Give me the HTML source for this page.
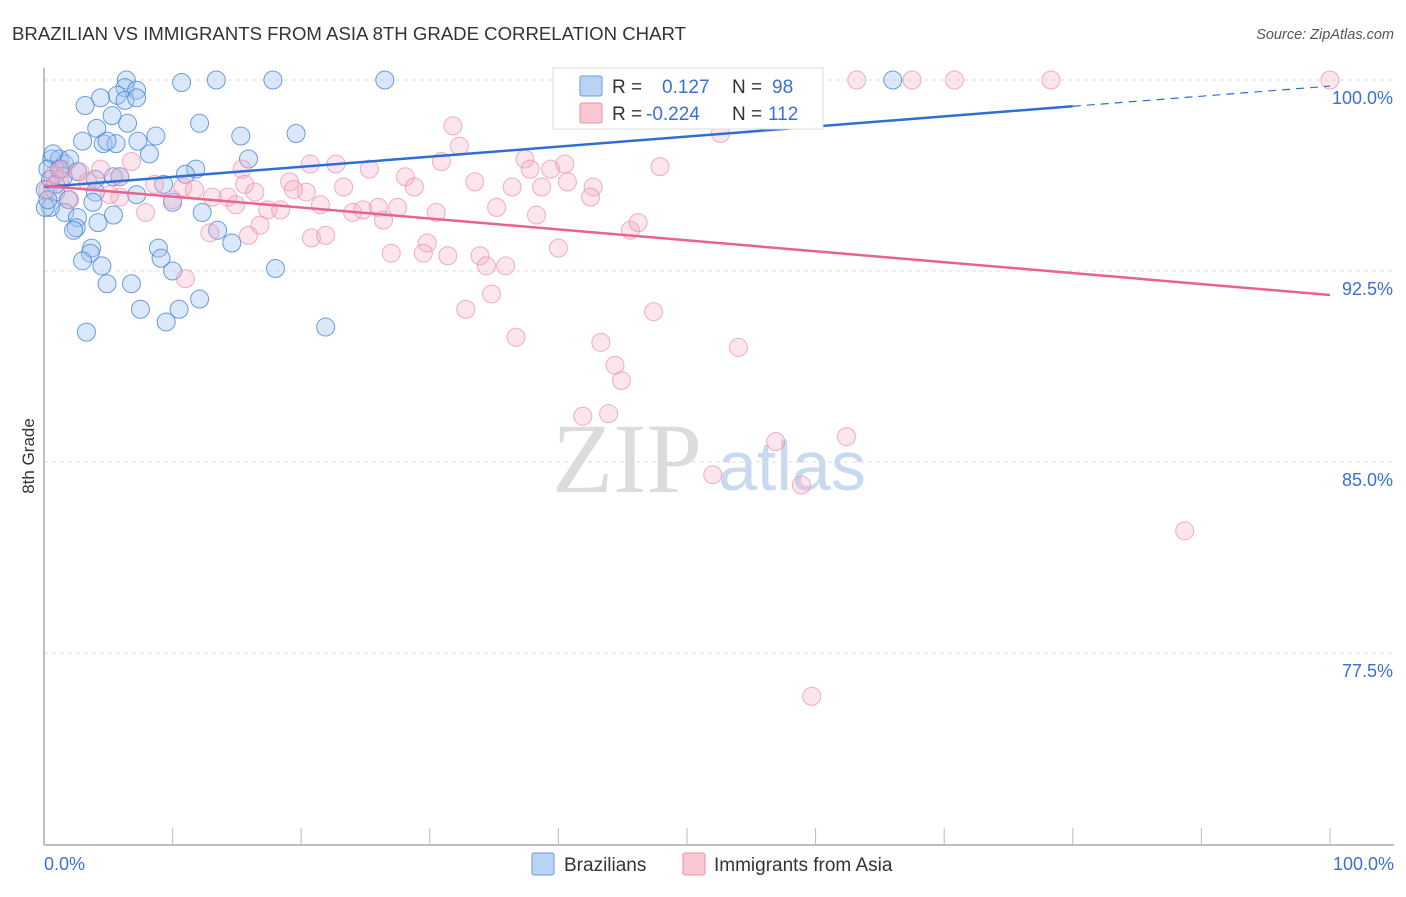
<!DOCTYPE html>
<html><head><meta charset="utf-8"><style>
body{margin:0;background:#fff;font-family:"Liberation Sans",sans-serif}
svg text{font-family:"Liberation Sans",sans-serif}
</style></head><body>
<svg id="chart" width="1406" height="892" viewBox="0 0 1406 892" xmlns="http://www.w3.org/2000/svg">
<text x="12" y="40" font-size="18.6" fill="#333">BRAZILIAN VS IMMIGRANTS FROM ASIA 8TH GRADE CORRELATION CHART</text>
<text x="1394" y="39" font-size="14.5" fill="#555" font-style="italic" text-anchor="end">Source: ZipAtlas.com</text>
<text transform="translate(34,456) rotate(-90)" font-size="17" fill="#333" text-anchor="middle">8th Grade</text>
<g><text x="552" y="492" font-size="100" style="font-family:'Liberation Serif',serif" fill="#dcdcdc">ZIP</text><text x="718" y="490" font-size="70" fill="#c9daf0">atlas</text></g>
<g id="grid"></g><g id="axes"></g><g id="pts"></g><g id="lines"></g>
<g>
<rect x="553" y="68" width="270" height="61" fill="#fff" stroke="#ddd"/>
<rect x="580" y="76" width="22" height="20" fill="#b8d3f4" stroke="#6a9be0" rx="2"/>
<rect x="580" y="103" width="22" height="20" fill="#f9c6d4" stroke="#eb92ad" rx="2"/>
<text x="612" y="93" font-size="19" fill="#333">R = </text><text x="662" y="93" font-size="19" fill="#3b6fd4">0.127</text>
<text x="732" y="93" font-size="19" fill="#333">N = </text><text x="772" y="93" font-size="19" fill="#3b6fd4">98</text>
<text x="612" y="120" font-size="19" fill="#333">R = </text><text x="646" y="120" font-size="19" fill="#3b6fd4">-0.224</text>
<text x="732" y="120" font-size="19" fill="#333">N = </text><text x="768" y="120" font-size="19" fill="#3b6fd4">112</text>
</g>
<g>
<rect x="532" y="853" width="22" height="22" fill="#b8d3f4" stroke="#6a9be0" rx="2"/>
<text x="564" y="871" font-size="19" fill="#333">Brazilians</text>
<rect x="683" y="853" width="22" height="22" fill="#f9c6d4" stroke="#eb92ad" rx="2"/>
<text x="714" y="871" font-size="19" fill="#333">Immigrants from Asia</text>
</g>
</svg>
<script>
const yTicks=[100,92.5,85,77.5];
const yTickLabels=["100.0%","92.5%","85.0%","77.5%"];
const xTickLabels=["0.0%","100.0%"];
const blueX=[6.4,10.7,13.4,17.8,26.5,66.0,6.3,7.2,5.7,4.4,6.3,7.2,3.2,5.3,12.1,6.5,4.1,8.7,15.3,19.6,3.0,4.6,5.6,7.3,4.9,8.2,15.9,11.8,11.0,0.6,1.2,1.6,2.0,0.7,0.3,1.5,2.6,4.0,5.4,5.9,9.3,7.2,4.0,0.9,1.9,3.8,10.0,12.3,1.6,2.6,5.4,2.5,2.3,4.2,13.5,14.6,8.9,3.7,3.6,3.0,4.5,9.1,10.0,18.0,4.9,6.8,7.5,12.1,10.5,9.5,3.3,21.9,0.5,0.1,0.5,0.9,1.2,0.1,0.3];
const blueY=[100,99.9,100,100,100,100,99.7,99.6,99.4,99.3,99.2,99.3,99.0,98.6,98.3,98.3,98.1,97.8,97.8,97.9,97.6,97.5,97.5,97.6,97.6,97.1,96.9,96.5,96.3,96.9,96.9,96.7,96.9,97.1,96.5,96.2,96.4,96.1,96.2,96.2,95.9,95.5,95.6,95.6,95.3,95.2,95.2,94.8,94.8,94.6,94.7,94.2,94.1,94.4,94.1,93.6,93.4,93.4,93.2,92.9,92.7,93.0,92.5,92.6,92.0,92.0,91.0,91.4,91.0,90.5,90.1,90.3,95.0,95.0,96.1,95.9,96.5,95.7,95.3];
const pinkX=[55.4,63.2,67.5,70.8,78.3,100,45.6,31.8,52.6,32.3,47.9,30.9,37.4,39.4,37.8,40.5,22.7,25.3,20.7,15.4,6.8,4.4,5.9,0.8,1.2,2.8,3.4,8.6,10.8,11.7,15.6,16.4,19.1,20.4,19.4,23.3,28.1,28.8,33.5,36.4,38.7,40.7,42.7,42.5,10.0,13.1,14.3,14.9,17.4,18.4,21.5,24.0,24.8,26.0,27.5,30.5,35.2,38.3,7.9,5.9,5.1,16.8,15.9,12.9,20.8,21.9,26.4,29.8,29.5,31.4,27.0,33.9,34.4,35.9,40.0,45.6,46.2,32.8,34.8,47.4,36.7,43.3,54.0,44.4,44.9,41.9,43.9,56.9,62.4,52.0,58.9,88.7,59.7,11.0,2.0,0.3,1.4];
const pinkY=[100,100,100,100,100,100,98.9,98.2,97.9,97.4,96.6,96.8,96.9,96.5,96.5,96.7,96.7,96.5,96.7,96.5,96.8,96.5,96.2,96.3,96.1,96.4,96.0,95.9,95.8,95.7,95.9,95.6,96.0,95.6,95.7,95.8,96.2,95.8,96.0,95.8,95.8,96.0,95.8,95.4,95.3,95.4,95.4,95.1,94.9,94.9,95.1,94.8,94.9,95.0,95.0,94.8,95.0,94.7,94.8,95.4,95.5,94.3,93.9,94.0,93.8,93.9,94.5,93.6,93.2,93.1,93.2,93.1,92.7,92.7,93.4,94.1,94.4,91.0,91.6,90.9,89.9,89.7,89.5,88.8,88.2,86.8,86.9,85.8,86.0,84.5,84.1,82.3,75.8,92.2,95.3,95.7,96.5];
const blueTrend=[95.8,99.76];
const pinkTrend=[95.85,91.56];
const NS="http://www.w3.org/2000/svg";
const X=v=>44+v*12.86;
const Y=v=>80+(100-v)*25.47;
function mk(t,a,p){const e=document.createElementNS(NS,t);for(const k in a)e.setAttribute(k,a[k]);p.appendChild(e);return e;}
const grid=document.getElementById('grid'),axes=document.getElementById('axes'),pts=document.getElementById('pts'),lines=document.getElementById('lines');
yTicks.forEach((t,i)=>{
 const l=mk('line',{x1:44,x2:1394,y1:Y(t),y2:Y(t),stroke:'#ddd','stroke-dasharray':'4,4'},grid);
 
 
 const tx=mk('text',{x:1393,y:Y(t)+24,'font-size':18,fill:'#3b6fd4','text-anchor':'end'},grid);
 tx.textContent=yTickLabels[i];
 
 
});
const ax=mk('line',{x1:44,x2:1394,y1:845,y2:845,stroke:'#aaa','stroke-width':1.5},axes);


const ay=mk('line',{x1:44,x2:44,y1:68,y2:845,stroke:'#aaa','stroke-width':1.5},axes);


for(let k=1;k<=10;k++){const t=mk('line',{x1:X(k*10),x2:X(k*10),y1:828,y2:845,stroke:'#bbb'},axes);
 
 }
const xl0=mk('text',{x:44,y:870,'font-size':18,fill:'#3b6fd4'},axes);xl0.textContent=xTickLabels[0];


const xl1=mk('text',{x:1394,y:870,'font-size':18,fill:'#3b6fd4','text-anchor':'end'},axes);xl1.textContent=xTickLabels[1];


blueX.forEach((v,i)=>{const c=mk('circle',{cx:X(v),cy:Y(blueY[i]),r:9,fill:'rgba(160,195,240,0.38)',stroke:'rgba(60,125,215,0.75)','stroke-width':1},pts);
 
 });
pinkX.forEach((v,i)=>{const c=mk('circle',{cx:X(v),cy:Y(pinkY[i]),r:9,fill:'rgba(245,175,198,0.32)',stroke:'rgba(235,140,172,0.7)','stroke-width':1},pts);
 
 });
const bAt=x=>blueTrend[0]+(blueTrend[1]-blueTrend[0])*x/100;
const b1=mk('line',{x1:X(0),y1:Y(bAt(0)),x2:X(80),y2:Y(bAt(80)),stroke:'#2f6fd4','stroke-width':2.5},lines);


const b2=mk('line',{x1:X(80),y1:Y(bAt(80)),x2:X(100),y2:Y(bAt(100)),stroke:'#2f6fd4','stroke-width':1.2,'stroke-dasharray':'8,6'},lines);


const p1=mk('line',{x1:X(0),y1:Y(pinkTrend[0]),x2:X(100),y2:Y(pinkTrend[1]),stroke:'#e8638f','stroke-width':2.5},lines);


</script>
</body></html>
